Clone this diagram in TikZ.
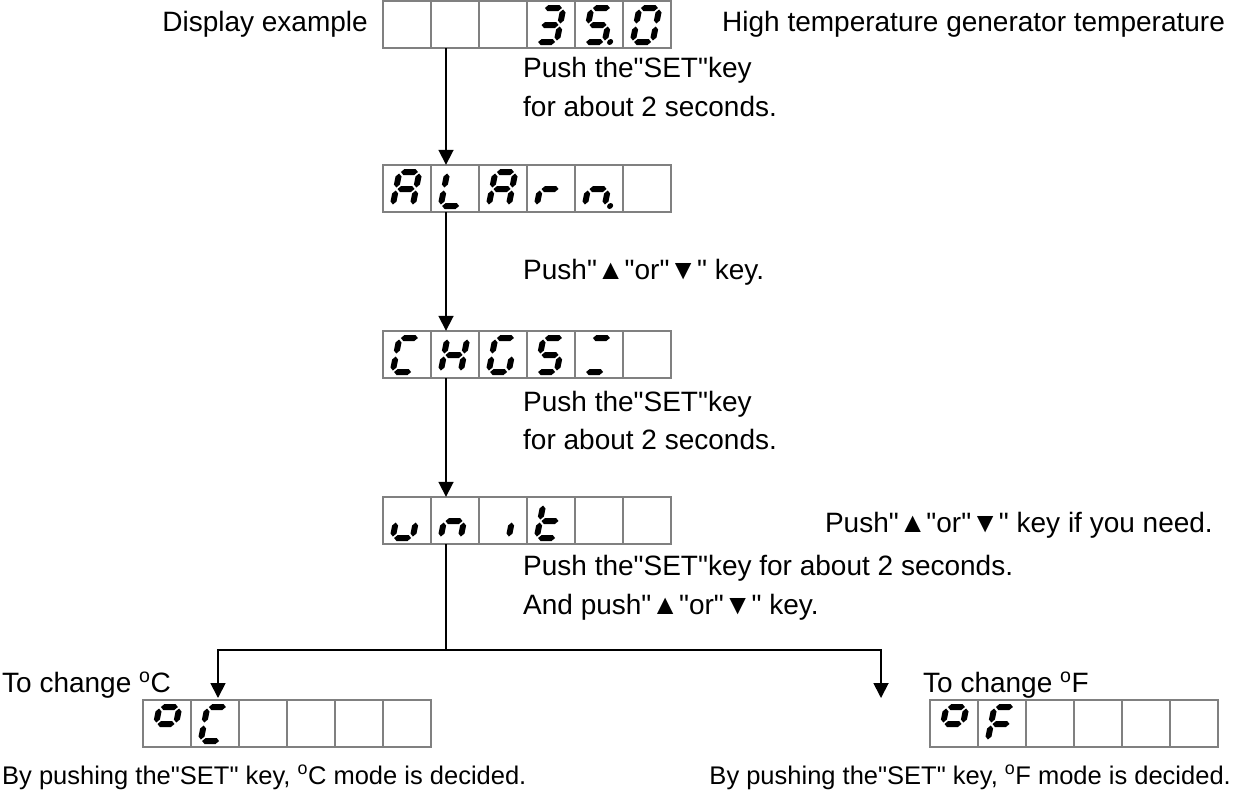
\documentclass[tikz,border=0pt]{standalone}
\usepackage{fontspec}
\newfontfamily\lsans{Liberation Sans}
\usetikzlibrary{arrows.meta}
\newcommand{\hseg}[1]{\fill (4.5,#1)--(7.5,#1+3)--(18.5,#1+3)--(21.5,#1)--(18.5,#1-3)--(7.5,#1-3)--cycle;}
\newcommand{\vseg}[3]{\fill (#1,#2+1.5)--(#1+3,#2+4.5)--(#1+3,#3-4.5)--(#1,#3-1.5)--(#1-3,#3-4.5)--(#1-3,#2+4.5)--cycle;}
\newcommand{\segA}{\hseg{37}}
\newcommand{\segG}{\hseg{20}}
\newcommand{\segD}{\hseg{3}}
\newcommand{\segF}{\vseg{3}{20}{37}}
\newcommand{\segE}{\vseg{3}{3}{20}}
\newcommand{\segB}{\vseg{23}{20}{37}}
\newcommand{\segC}{\vseg{23}{3}{20}}
\newcommand{\segP}{\fill (28.5,3) circle (3);}
\newcommand{\sevseg}[3]{\begin{scope}[shift={(#1+6,#2+44)},x=1pt,y=1pt,xslant=0.2]\foreach \s in {#3}{\csname seg\s\endcsname}\end{scope}}
\newcommand{\dispcells}[2]{\foreach \i in {0,...,5}{\draw[cell] ({#1+48*\i},#2) rectangle ++(48,47);}}
\tikzset{
  cell/.style={draw=black!50, line width=1.3pt},
  disp/.style={minimum width=288pt, minimum height=47pt, inner sep=0pt, draw=none},
  txt/.style={inner sep=0pt, font=\lsans\fontsize{28}{32}\selectfont, anchor=base west},
  smalltxt/.style={txt, font=\lsans\fontsize{25.5}{30}\selectfont},
  conn/.style={line width=1.8pt, draw=black},
  arr/.style={conn, -{Triangle[width=15pt,length=15pt]}},
}
\begin{document}
\begin{tikzpicture}[x=1pt,y=-1pt]
\useasboundingbox (0,0) rectangle (1233,793);
% display nodes (frames)
\node[disp] (d1) at (527,24.5) {};
\node[disp] (d2) at (527,188.5) {};
\node[disp] (d3) at (527,354.5) {};
\node[disp] (d4) at (527,520.5) {};
\node[disp] (d5) at (287,723.5) {};
\node[disp] (d6) at (1074,723.5) {};
\dispcells{383}{1}
\dispcells{383}{165}
\dispcells{383}{331}
\dispcells{383}{497}
\dispcells{143}{700}
\dispcells{930}{700}
% digits
\sevseg{527}{1}{A,B,C,D,G}
\sevseg{575}{1}{A,F,G,C,D,P}
\sevseg{623}{1}{A,B,C,D,E,F}
\sevseg{383}{165}{A,B,C,E,F,G}
\sevseg{431}{165}{D,E,F}
\sevseg{479}{165}{A,B,C,E,F,G}
\sevseg{527}{165}{E,G}
\sevseg{575}{165}{C,E,G,P}
\sevseg{383}{331}{A,D,E,F}
\sevseg{431}{331}{B,C,E,F,G}
\sevseg{479}{331}{A,C,D,E,F}
\sevseg{527}{331}{A,F,G,C,D}
\sevseg{575}{331}{A,D}
\sevseg{383}{497}{C,D,E}
\sevseg{431}{497}{C,E,G}
\sevseg{479}{497}{C}
\sevseg{527}{497}{D,E,F,G}
\sevseg{143}{700}{A,B,F,G}
\sevseg{191}{700}{A,D,E,F}
\sevseg{930}{700}{A,B,F,G}
\sevseg{978}{700}{A,E,F,G}
% texts
\node[txt, anchor=base east] (t1) at (368,31) {Display example};
\node[txt] (t2) at (722,31) {High temperature generator temperature};
\node[txt] (t3) at (523,77) {Push the"SET"key};
\node[txt] (t4) at (523,116) {for about 2 seconds.};
\node[txt] (t5) at (523,279) {Push"▲"or"▼" key.};
\node[txt] (t6) at (523,411) {Push the"SET"key};
\node[txt] (t7) at (523,449) {for about 2 seconds.};
\node[txt, anchor=base east] (t8) at (1213,532) {Push"▲"or"▼" key if you need.};
\node[txt] (t9) at (523,575) {Push the"SET"key for about 2 seconds.};
\node[txt] (t10) at (523,614) {And push"▲"or"▼" key.};
\node[txt] (t11) at (2,692) {To change \textsuperscript{o}C};
\node[txt] (t12) at (923,692) {To change \textsuperscript{o}F};
\node[smalltxt] (t13) at (2,784) {By pushing the"SET" key, \textsuperscript{o}C mode is decided.};
\node[smalltxt, anchor=base east] (t14) at (1231,784) {By pushing the"SET" key, \textsuperscript{o}F mode is decided.};
% connectors
\draw[arr] ([xshift=-81pt]d1.south) -- ([xshift=-81pt]d2.north);
\draw[arr] ([xshift=-81pt]d2.south) -- ([xshift=-81pt]d3.north);
\draw[arr] ([xshift=-81pt]d3.south) -- ([xshift=-81pt]d4.north);
\coordinate (sp) at (446,650);
\coordinate (tl) at (218,698);
\coordinate (tr) at (881,698);
\draw[conn] ([xshift=-81pt]d4.south) -- (sp);
\draw[arr] (sp) -| (tl);
\draw[arr] (sp) -| (tr);
\end{tikzpicture}
\end{document}
